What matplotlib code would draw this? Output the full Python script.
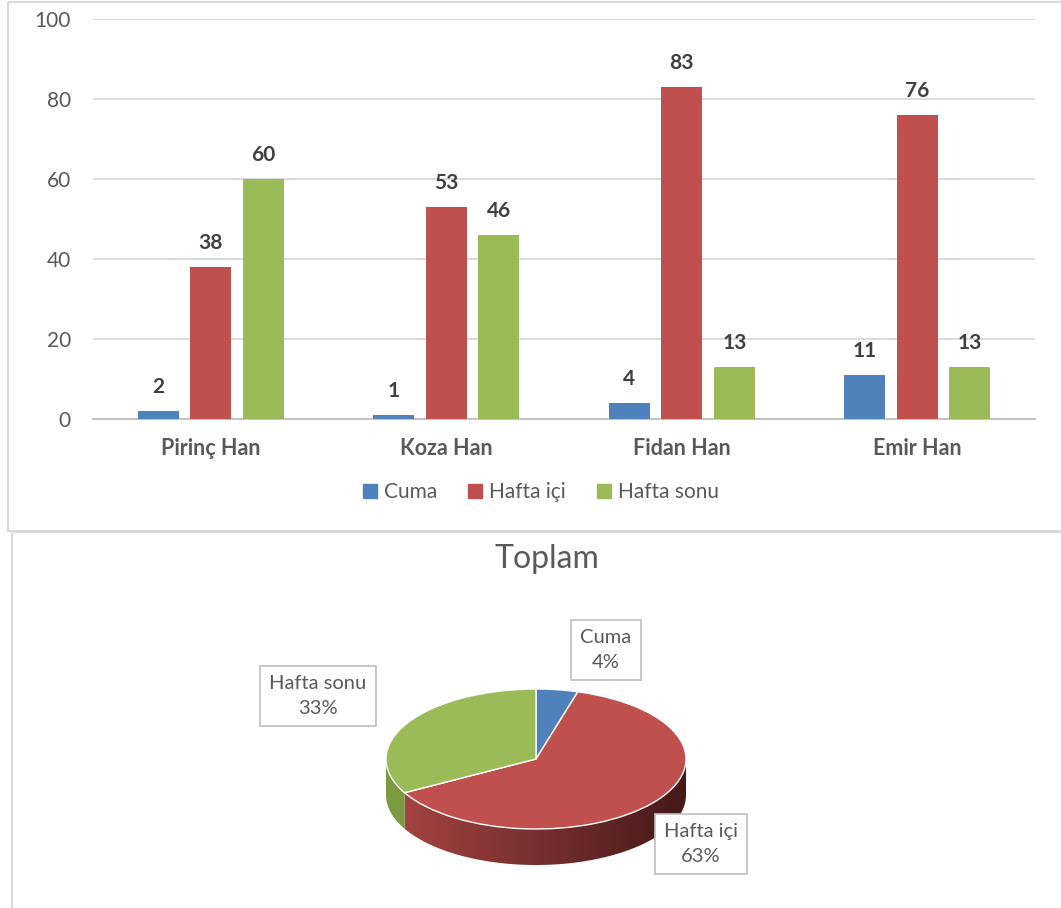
import matplotlib.pyplot as plt
import numpy as np
from matplotlib.patches import Patch, Wedge, Polygon, Rectangle
from matplotlib.transforms import Affine2D

plt.rcParams['font.family'] = ['Lato', 'DejaVu Sans']

# Data
categories = ['Pirinç Han', 'Koza Han', 'Fidan Han', 'Emir Han']
series = ['Cuma', 'Hafta içi', 'Hafta sonu']
cuma = [2, 1, 4, 11]
hafta_ici = [38, 53, 83, 76]
hafta_sonu = [60, 46, 13, 13]
pie_pct_labels = ['4%', '63%', '33%']

colors = ['#4F81BD', '#C0504D', '#9BBB59']
TEXT = '#595959'
GRID = '#D9D9D9'

W, H = 1061, 908
fig = plt.figure(figsize=(W / 100, H / 100), dpi=100)

# background axes in pixel coordinates (frames + pie)
bg = fig.add_axes([0, 0, 1, 1], zorder=0)
bg.set_xlim(0, W)
bg.set_ylim(H, 0)
bg.axis('off')
bg.add_patch(Rectangle((8, 2), W + 10, 529, fill=False, ec=GRID, lw=1.5))
bg.add_patch(Rectangle((12, 532), W + 10, H, fill=False, ec=GRID, lw=1.5))

# ---- bar chart ----
ax = fig.add_axes([93 / W, (H - 419) / H, 942 / W, 400 / H], zorder=1)
ax.set_facecolor('none')
x = np.arange(len(categories))
bw = 0.174
step = 0.223
for i, (vals, c, name) in enumerate(zip([cuma, hafta_ici, hafta_sonu], colors, series)):
    bars = ax.bar(x + (i - 1) * step, vals, width=bw, color=c, label=name, zorder=3)
    for b, v in zip(bars, vals):
        ax.annotate(str(v), (b.get_x() + b.get_width() / 2, v), xytext=(0, 10),
                    textcoords='offset points', ha='center', va='bottom',
                    fontsize=15, fontweight='bold', color='#404040')

ax.set_xlim(-0.5, 3.5)
ax.set_ylim(0, 100)
ax.set_yticks(range(0, 101, 20))
ax.set_xticks(x)
ax.set_xticklabels(categories, fontsize=15.5, fontweight='bold', color=TEXT)
ax.tick_params(axis='y', length=0, pad=16, labelsize=15, labelcolor=TEXT)
ax.tick_params(axis='x', length=0, pad=14)
ax.grid(axis='y', color=GRID, lw=1.3, zorder=0)
for s in ['top', 'right', 'left']:
    ax.spines[s].set_visible(False)
ax.spines['bottom'].set_color('#BFBFBF')
ax.spines['bottom'].set_linewidth(1.3)

handles = [Patch(color=c) for c in colors]
fig.legend(handles, series, loc='center', bbox_to_anchor=(541 / W, 1 - 492 / H),
           ncol=3, frameon=False, fontsize=15, handlelength=0.65, handleheight=0.65,
           handletextpad=0.35, columnspacing=1.5, labelcolor=TEXT)

# ---- 3D-looking pie ----
totals = [sum(cuma), sum(hafta_ici), sum(hafta_sonu)]
fracs = np.array(totals) / sum(totals)
cx, cy, a, b, depth = 536, 759, 150, 70, 36

angles = [90.0]
for f in fracs:
    angles.append(angles[-1] - 360 * f)

side_cols = [(np.array([70, 110, 170]), np.array([50, 80, 130])),
             (np.array([168, 70, 68]), np.array([70, 25, 25])),
             (np.array([125, 155, 65]), np.array([105, 135, 55]))]

# gradient image used for the side walls
gx = np.linspace(0, 1, 256)

# side walls (front half only: math angle -180..0)
for k in range(len(fracs)):
    lo, hi = angles[k + 1], angles[k]
    for shift in (0, -360, 360):
        l2, h2 = max(lo + shift, -180), min(hi + shift, 0)
        if h2 <= l2:
            continue
        t = np.radians(np.linspace(l2, h2, 120))
        xs = cx + a * np.cos(t)
        ys = cy - b * np.sin(t)
        pts = np.concatenate([np.column_stack([xs, ys]),
                              np.column_stack([xs[::-1], ys[::-1] + depth])])
        poly = Polygon(pts, closed=True, fc='none', ec='none')
        bg.add_patch(poly)
        c0, c1 = side_cols[k]
        img = (c0[None, :] * (1 - gx[:, None]) + c1[None, :] * gx[:, None]) / 255
        im = bg.imshow(img[None, :, :], extent=(cx - a, cx + a, cy + b + depth, cy - b),
                       aspect='auto', zorder=2, interpolation='bilinear')
        im.set_clip_path(poly)

bg.set_xlim(0, W)
bg.set_ylim(H, 0)

tr = Affine2D().scale(a, -b).translate(cx, cy) + bg.transData
for k in range(len(fracs)):
    bg.add_patch(Wedge((0, 0), 1, angles[k + 1], angles[k], fc=colors[k], ec='white',
                       lw=1.0, transform=tr, zorder=3))

bg.text(547, 559, 'Toplam', ha='center', va='center', fontsize=23, color=TEXT)

label_pos = [(606, 650), (701, 844), (318, 696)]
for name, pct, (lx, ly) in zip(series, pie_pct_labels, label_pos):
    bg.text(lx, ly, f'{name}\n{pct}', ha='center', va='center', fontsize=14.5,
            color=TEXT, linespacing=1.55, zorder=5,
            bbox=dict(boxstyle='square,pad=0.45', fc='white', ec='#BFBFBF', lw=1.2))

fig.savefig('out.png', dpi=100)
